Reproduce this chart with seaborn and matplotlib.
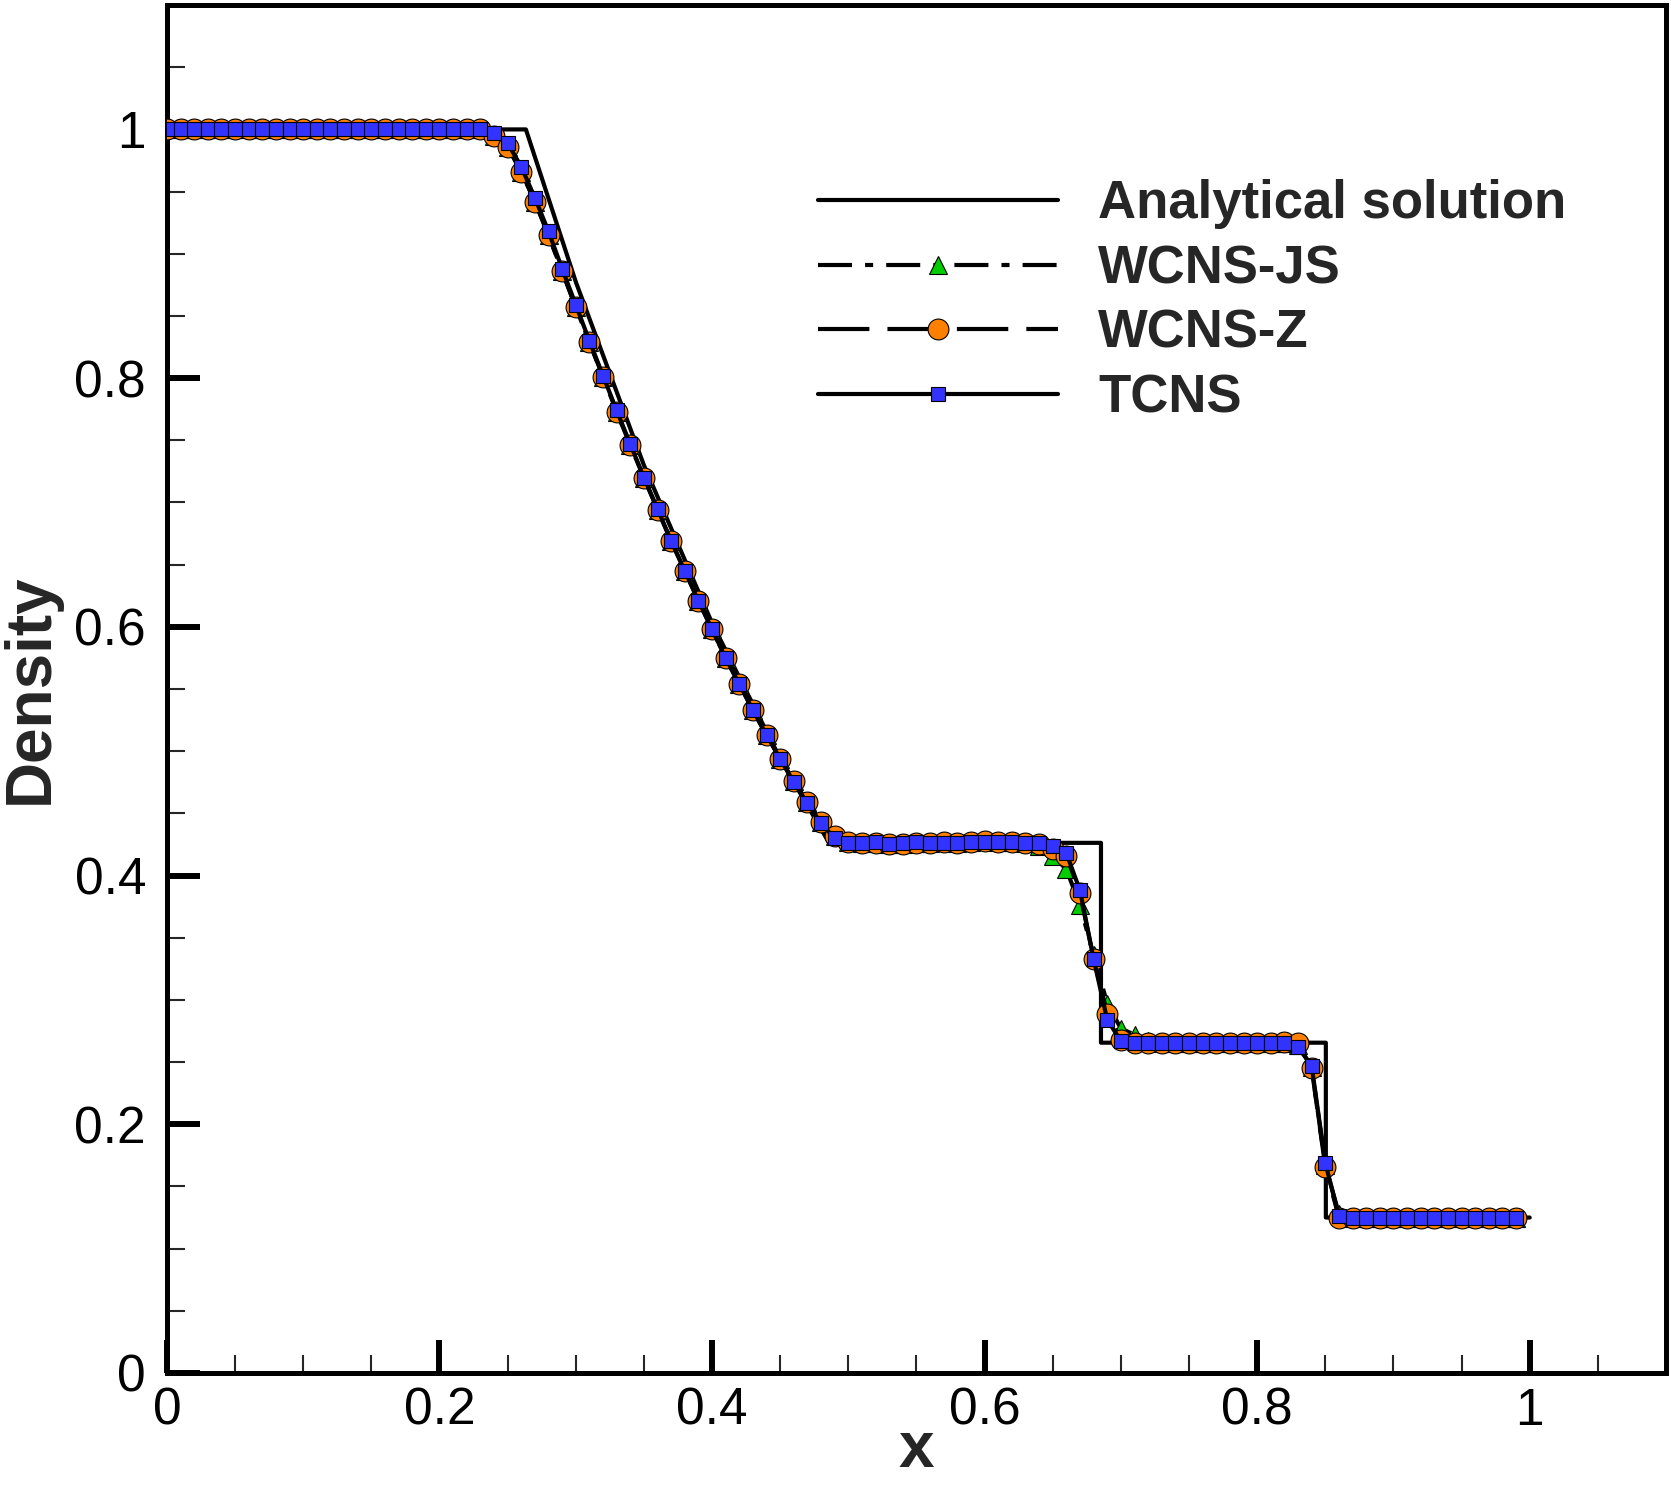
import numpy as np
import pandas as pd
import matplotlib
matplotlib.use("Agg")
import matplotlib.pyplot as plt
import seaborn as sns

# ---------------- data ----------------
x_num = np.arange(100) / 100.0

tcns = ([1.0] * 24 +
        [0.997, 0.989, 0.970, 0.945, 0.918, 0.888, 0.859, 0.830, 0.802, 0.774,
         0.747, 0.720, 0.695, 0.669, 0.645, 0.621, 0.598, 0.575, 0.554, 0.533,
         0.513, 0.494, 0.475, 0.458, 0.442, 0.430, 0.426, 0.426, 0.427, 0.425,
         0.426, 0.427, 0.426, 0.426, 0.426, 0.427, 0.427, 0.427, 0.427, 0.426,
         0.426, 0.424, 0.418, 0.388, 0.333, 0.284, 0.267] +
        [0.265] * 12 +
        [0.262, 0.247, 0.169, 0.126] +
        [0.125] * 13)

wcns_z = ([1.0] * 24 +
          [0.995, 0.986, 0.966, 0.942, 0.915, 0.886, 0.857, 0.829, 0.801, 0.773,
           0.746, 0.720, 0.694, 0.669, 0.645, 0.621, 0.598, 0.575, 0.554, 0.533,
           0.513, 0.494, 0.476, 0.459, 0.443, 0.432, 0.427, 0.426, 0.426, 0.425,
           0.425, 0.426, 0.426, 0.427, 0.426, 0.427, 0.428, 0.427, 0.427, 0.426,
           0.425, 0.421, 0.416, 0.386, 0.333, 0.289, 0.268] +
          [0.265] * 11 +
          [0.266, 0.265, 0.245, 0.166, 0.125] +
          [0.125] * 13)

wcns_js = ([1.0] * 24 +
           [0.995, 0.986, 0.966, 0.942, 0.915, 0.886, 0.857, 0.829, 0.801, 0.773,
            0.746, 0.720, 0.694, 0.669, 0.645, 0.621, 0.598, 0.575, 0.554, 0.533,
            0.513, 0.494, 0.476, 0.459, 0.443, 0.432, 0.427, 0.426, 0.426, 0.425,
            0.425, 0.426, 0.426, 0.427, 0.426, 0.427, 0.428, 0.427, 0.427, 0.426,
            0.424, 0.416, 0.405, 0.376, 0.336, 0.297, 0.277] +
           [0.272, 0.267] + [0.265] * 10 +
           [0.264, 0.246, 0.167, 0.128] +
           [0.125] * 13)

x_exact = [0.0, 0.2634, 0.30, 0.35, 0.40, 0.45, 0.4859, 0.6854, 0.6854,
           0.8504, 0.8504, 1.0]
rho_exact = [1.0, 1.0, 0.8775, 0.730, 0.603, 0.494, 0.4263, 0.4263, 0.2656,
             0.2656, 0.125, 0.125]

tick_vals = [0, 0.2, 0.4, 0.6, 0.8, 1.0]
tick_labels = ["0", "0.2", "0.4", "0.6", "0.8", "1"]

# ---------------- style ----------------
sns.set_theme(style="ticks")
plt.rcParams["font.family"] = ["Liberation Sans", "DejaVu Sans"]
plt.rcParams["lines.scale_dashes"] = False

fig = plt.figure(figsize=(16.71, 14.88), dpi=100)
ax = fig.add_axes([0.0999, 0.0773, 0.8971, 0.9193])

LW = 3.0
EC = "black"
MEW = 0.8

sns.lineplot(x=x_exact, y=rho_exact, ax=ax, sort=False, estimator=None,
             color="black", linewidth=LW, label="Analytical solution", zorder=2)

sns.lineplot(x=x_num, y=wcns_js, ax=ax, sort=False, estimator=None,
             color="black", linewidth=LW, marker="^", markersize=13,
             markerfacecolor="#00cc00", markeredgecolor=EC, markeredgewidth=MEW,
             label="WCNS-JS", zorder=3)
sns.lineplot(x=x_num, y=wcns_z, ax=ax, sort=False, estimator=None,
             color="black", linewidth=LW, marker="o", markersize=15,
             markerfacecolor="#ff8000", markeredgecolor=EC, markeredgewidth=MEW,
             label="WCNS-Z", zorder=4)
sns.lineplot(x=x_num, y=tcns, ax=ax, sort=False, estimator=None,
             color="black", linewidth=LW, marker="s", markersize=10.6,
             markerfacecolor="#3333ff", markeredgecolor=EC, markeredgewidth=MEW,
             label="TCNS", zorder=5)

lines = ax.get_lines()
lines[1].set_dashes((24.5, 9.4, 5.8, 9.4))
lines[2].set_dashes((37, 13))

ax.set_xlim(0, 1.1)
ax.set_ylim(0, 1.1)
ax.set_xticks(tick_vals)
ax.set_xticklabels(tick_labels)
ax.set_yticks(tick_vals)
ax.set_yticklabels(tick_labels)
ax.set_xticks(np.arange(0, 1.1, 0.05), minor=True)
ax.set_yticks(np.arange(0, 1.1, 0.05), minor=True)

for s in ax.spines.values():
    s.set_linewidth(3.6)
    s.set_color("black")
    s.set_visible(True)

ax.tick_params(axis="both", which="major", direction="in", length=24, width=4.3,
               labelsize=37, colors="black", top=False, right=False)
ax.tick_params(axis="both", which="minor", direction="in", length=13, width=1.5,
               top=False, right=False)
ax.tick_params(axis="x", which="major", pad=10)
ax.tick_params(axis="y", which="major", pad=15)

ax.set_xlabel("x", fontsize=46, fontweight="bold")
ax.set_ylabel("Density", fontsize=46, fontweight="bold")
ax.xaxis.set_label_coords(0.5, -0.0345)
ax.yaxis.set_label_coords(-0.0705, 0.5)

leg = ax.legend(loc="upper left", bbox_to_anchor=(0.4343, 0.8726),
                frameon=False, fontsize=38, handlelength=4.55,
                handletextpad=0.76, labelspacing=0.28, borderpad=0,
                borderaxespad=0, numpoints=1)
for t in leg.get_texts():
    t.set_fontweight("bold")

fig.savefig("out.png", dpi=100, facecolor="white")
